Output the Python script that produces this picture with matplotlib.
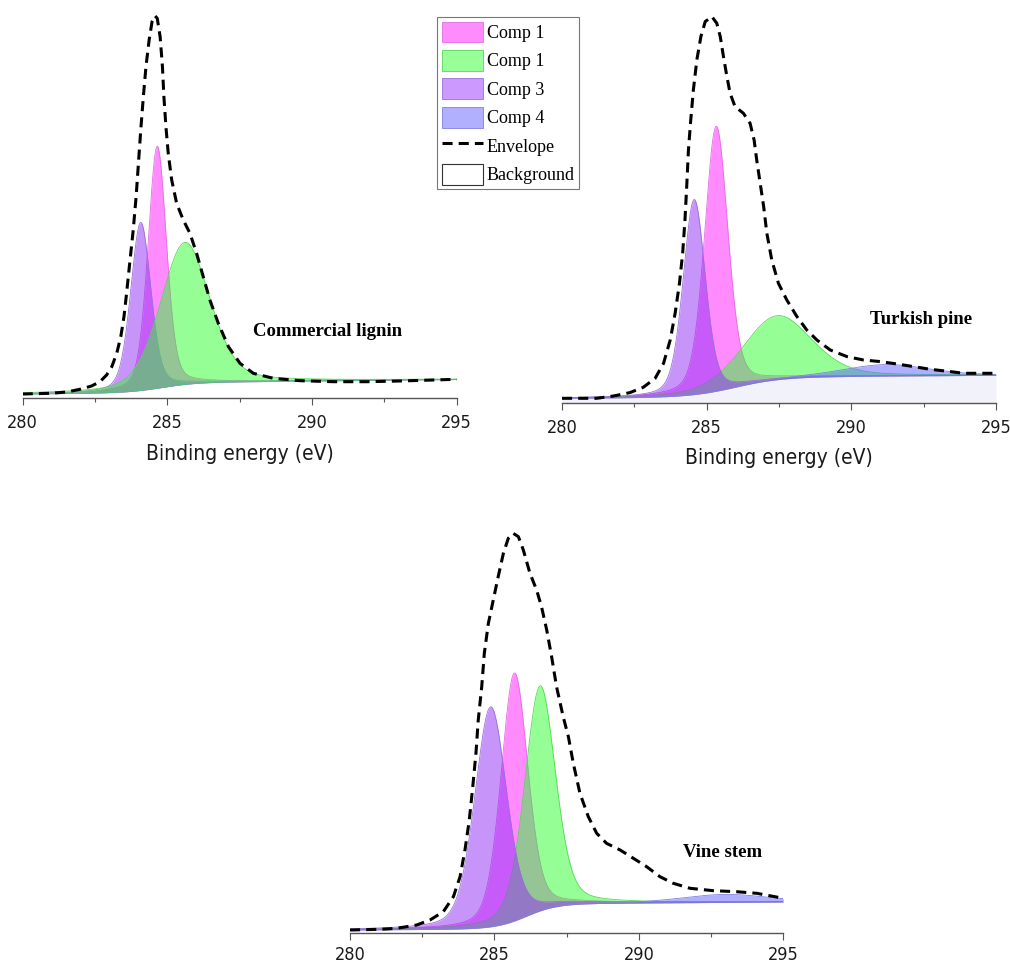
import numpy as np
import matplotlib
matplotlib.use("Agg")
import matplotlib.pyplot as plt
from matplotlib.patches import Patch
from matplotlib.lines import Line2D
from matplotlib.ticker import MultipleLocator
from matplotlib import font_manager

# ---------------- data ----------------
comp_labels = ["Comp 1", "Comp 1", "Comp 3", "Comp 4"]
legend_labels = comp_labels + ["Envelope", "Background"]

# fitted C1s components: centre (eV), height (a.u.), FWHM (eV)
lignin_center = [284.65, 285.61, 284.08, 290.5]
lignin_height = [242.0, 142.0, 168.0, 1.0]
lignin_fwhm = [0.75, 2.0, 0.82, 3.0]
# Shirley-type background: step height, step centre, step width, slope
lignin_bg = [10.0, 284.8, 0.6, 0.3]
lignin_env_ev = [280.00, 280.94, 281.52, 281.98, 282.38, 282.67, 282.90, 283.08,
                 283.25, 283.39, 283.50, 283.59, 283.71, 283.82, 283.92, 284.00,
                 284.08, 284.17, 284.26, 284.37, 284.47, 284.57, 284.65, 284.75,
                 284.83, 284.88, 284.95, 285.03, 285.15, 285.32, 285.55, 285.78,
                 286.01, 286.24, 286.47, 286.76, 287.11, 287.51, 287.97, 288.66,
                 289.59, 290.74, 291.89, 293.04, 295.00]
lignin_env_int = [0.0, 0.7, 2.0, 4.7, 8.0, 12.3, 19.0, 27.3,
                  40.7, 57.3, 77.3, 100.7, 134.0, 164.0, 197.3, 230.7,
                  264.0, 297.3, 327.3, 354.0, 372.3, 378.3, 375.7, 357.3,
                  327.3, 297.3, 267.3, 240.7, 214.0, 190.7, 174.0, 160.7,
                  140.7, 117.3, 94.0, 70.7, 47.3, 30.7, 20.7, 15.7,
                  13.3, 12.3, 12.3, 13.0, 14.7]

pine_center = [285.33, 287.43, 284.57, 291.2]
pine_height = [265.0, 64.0, 195.0, 11.5]
pine_fwhm = [0.95, 2.8, 0.9, 3.5]
pine_bg = [20.0, 286.0, 0.8, 0.2]
pine_env_ev = [280.00, 281.20, 281.78, 282.35, 282.81, 283.22, 283.51, 283.74,
               283.91, 284.06, 284.17, 284.25, 284.31, 284.37, 284.45, 284.54,
               284.66, 284.80, 284.95, 285.18, 285.35, 285.47, 285.58, 285.70,
               285.81, 285.98, 286.27, 286.50, 286.64, 286.73, 286.85, 286.97,
               287.08, 287.25, 287.48, 287.77, 288.12, 288.46, 288.81, 289.27,
               289.85, 290.42, 291.00, 291.58, 292.15, 292.73, 293.42, 293.88,
               295.00]
pine_env_int = [0.0, 0.0, 2.3, 5.7, 11.0, 20.0, 35.0, 58.3,
                85.0, 115.0, 145.0, 178.3, 211.7, 248.3, 278.3, 308.3,
                338.3, 361.7, 376.7, 381.7, 375.0, 361.7, 341.7, 321.7,
                305.0, 291.7, 285.0, 275.0, 258.3, 238.3, 215.0, 191.7,
                165.0, 138.3, 115.0, 98.3, 81.7, 68.3, 58.3, 48.3,
                41.7, 38.3, 36.7, 34.3, 31.7, 29.0, 26.7, 25.0,
                25.0]

vine_center = [285.69, 286.58, 284.87, 293.0]
vine_height = [248.0, 225.0, 220.0, 8.0]
vine_fwhm = [1.1, 1.25, 1.3, 3.5]
vine_bg = [25.0, 286.1, 0.53, 0.2]
vine_env_ev = [280.00, 281.04, 281.62, 282.31, 282.77, 283.23, 283.58, 283.81,
               283.98, 284.13, 284.25, 284.36, 284.44, 284.56, 284.65, 284.79,
               284.96, 285.13, 285.31, 285.48, 285.65, 285.83, 286.00, 286.23,
               286.46, 286.63, 286.81, 286.98, 287.15, 287.38, 287.56, 287.73,
               287.96, 288.25, 288.54, 288.88, 289.35, 289.81, 290.27, 290.73,
               291.19, 291.77, 292.58, 293.38, 294.08, 295.00]
vine_env_int = [0.0, 0.7, 1.7, 5.0, 10.0, 18.3, 33.3, 53.3,
                80.0, 110.0, 143.3, 176.7, 210.0, 243.3, 276.7, 306.7,
                330.0, 353.3, 376.7, 391.7, 396.7, 393.3, 380.0, 356.7,
                340.0, 323.3, 300.0, 273.3, 243.3, 213.3, 193.3, 166.7,
                136.7, 113.3, 96.7, 86.7, 80.0, 71.7, 63.3, 53.3,
                46.7, 41.7, 39.3, 38.3, 36.7, 31.7]

# ---------------- style ----------------
legend_colors = ["#ff8cff", "#99ff99", "#cc99ff", "#b0b0ff"]
fill_colors = ["#ff19ff", "#2dff2d", "#912df5", "#6161ff"]
edge_colors = ["#e070e0", "#55d855", "#9a70d8", "#8080e0"]
serif = ["Liberation Serif"]

# a condensed sans face for the axis text, if one is installed
_names = {f.name for f in font_manager.fontManager.ttflist}
if "Liberation Sans Narrow" in _names:
    sans_props = dict(family="Liberation Sans Narrow")
elif any(f.name == "DejaVu Sans" and f.stretch == "condensed"
         for f in font_manager.fontManager.ttflist):
    sans_props = dict(family="DejaVu Sans", stretch="condensed")
else:
    sans_props = dict(family="Liberation Sans")


def pseudo_voigt(x, center, height, fwhm, mix=0.3):
    d = (x - center) / fwhm
    gauss = np.exp(-4.0 * np.log(2.0) * d ** 2)
    lorentz = 1.0 / (1.0 + 4.0 * d ** 2)
    return height * ((1.0 - mix) * gauss + mix * lorentz)


def shirley(x, step, center, width, slope):
    return step / (1.0 + np.exp(-(x - center) / width)) + slope * (x - 280.0)


def draw_panel(ax, centers, heights, fwhms, bgpar, env_ev, env_int,
               order, title, title_xy, ylim, shade_bg=False, xlabel=None,
               xlabel_y=-0.14, tick_pad=6.5):
    x = np.linspace(280, 295, 1200)
    bg = shirley(x, *bgpar)
    ax.set_xlim(280, 295)
    ax.set_ylim(*ylim)
    if shade_bg:
        ax.fill_between(x, ylim[0], bg, color="#f2f2fb", lw=0, zorder=1)
    for z, i in enumerate(order):
        comp = pseudo_voigt(x, centers[i], heights[i], fwhms[i])
        ax.fill_between(x, bg, bg + comp, color=fill_colors[i], alpha=0.5,
                        lw=0, zorder=2 + z)
        ax.plot(x, bg + comp, color=edge_colors[i], lw=0.6, zorder=2 + z)
    ax.plot(env_ev, env_int, color="black", lw=2.2,
            linestyle=(0, (3.3, 2.0)), zorder=10)
    ax.text(title_xy[0], title_xy[1], title, family=serif, weight="bold",
            fontsize=13.5, ha="center", va="center", zorder=11)

    for side in ("left", "right", "top"):
        ax.spines[side].set_visible(False)
    ax.spines["bottom"].set_color("#555555")
    ax.spines["bottom"].set_linewidth(1.0)
    ax.set_yticks([])
    ax.xaxis.set_major_locator(MultipleLocator(5))
    ax.xaxis.set_minor_locator(MultipleLocator(2.5))
    ax.tick_params(axis="x", which="major", direction="out", length=5,
                   width=0.8, color="#555555", pad=tick_pad, labelsize=13,
                   labelcolor="#1a1a1a")
    ax.tick_params(axis="x", which="minor", direction="out", length=3,
                   width=0.8, color="#555555")
    for lab in ax.get_xticklabels():
        lab.set(**sans_props)
    ax.patch.set_alpha(0)
    if xlabel:
        ax.text(0.5, xlabel_y, xlabel, transform=ax.transAxes, ha="center",
                va="center", fontsize=15, color="#1a1a1a", **sans_props)


W, H = 1010, 963
fig = plt.figure(figsize=(W / 100, H / 100), dpi=100)


def px_axes(x0, x1, y_top, y_axis):
    return fig.add_axes([x0 / W, 1 - y_axis / H, (x1 - x0) / W, (y_axis - y_top) / H])


ax1 = px_axes(22.7, 456.7, 10, 398)
ax2 = px_axes(562, 996, 10, 403)
ax3 = px_axes(350, 783.3, 520, 933.3)

draw_panel(ax1, lignin_center, lignin_height, lignin_fwhm, lignin_bg,
           lignin_env_ev, lignin_env_int, order=[0, 2, 3, 1],
           title="Commercial lignin", title_xy=(290.55, 62), ylim=(-4, 384),
           xlabel="Binding energy (eV)", xlabel_y=-56 / 388)
draw_panel(ax2, pine_center, pine_height, pine_fwhm, pine_bg,
           pine_env_ev, pine_env_int, order=[0, 1, 2, 3],
           title="Turkish pine", title_xy=(292.41, 79), ylim=(-4.7, 388.3),
           shade_bg=True, xlabel="Binding energy (eV)", xlabel_y=-55 / 393)
draw_panel(ax3, vine_center, vine_height, vine_fwhm, vine_bg,
           vine_env_ev, vine_env_int, order=[0, 1, 2, 3],
           title="Vine stem", title_xy=(292.91, 78), ylim=(-3.3, 410),
           tick_pad=4)

handles = [Patch(facecolor=c, edgecolor=e, lw=0.6)
           for c, e in zip(legend_colors, edge_colors)]
handles.append(Line2D([], [], color="black", lw=2.2, linestyle=(0, (3.3, 2.0))))
handles.append(Patch(facecolor="white", edgecolor="#333333", lw=0.8))
leg = fig.legend(handles, legend_labels, loc="upper left",
                 bbox_to_anchor=(437 / W, 1 - 17 / H), frameon=True,
                 fancybox=False, shadow=False, borderaxespad=0,
                 prop={"family": serif, "size": 13},
                 handlelength=2.3, handleheight=1.4, handletextpad=0.2,
                 labelspacing=0.42, borderpad=0.25)
leg.get_frame().set_edgecolor("#555555")
leg.get_frame().set_linewidth(0.8)

fig.savefig("out.png", dpi=100, facecolor="white")
